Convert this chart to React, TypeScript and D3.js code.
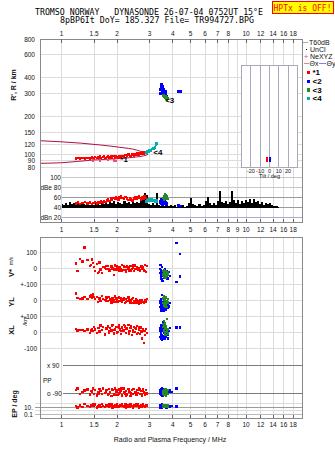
import React from 'react';
import * as d3 from 'd3';

const W = 335;
const H = 451;

// frequency axis ticks (MHz)
const freqTicksOuter = [1, 1.5, 2, 3, 4, 5, 6, 7, 8, 10, 12, 14, 16, 18];
const freqTicksMid = [1, 1.5, 2, 3, 4, 5, 6, 7, 8, 9, 10, 12, 14, 16, 18];
const heightTicks = [800, 600, 400, 300, 200, 150, 120, 100, 90, 80];
const dbTicks: [number, string][] = [[100, '100'], [80, 'dBe 80'], [60, '60'], [40, '40'], [20, 'dBn 20']];
const tiltTicks = [-20, -10, 0, 10, 20];

// echo traces [f MHz, virtual height km, amplitude dB]
const redEchoes: [number, number, number][] = [
  [1.20, 93.5, 47], [1.23, 94, 49], [1.26, 93, 46], [1.30, 94.5, 48], [1.34, 93, 50],
  [1.38, 94, 47], [1.42, 93.5, 49], [1.46, 95, 46], [1.49, 93, 48], [1.52, 96, 50],
  [1.55, 94, 47], [1.58, 95, 49], [1.61, 97, 48], [1.64, 94, 51], [1.67, 95.5, 49],
  [1.70, 97, 52], [1.73, 94, 50], [1.76, 96, 53], [1.79, 98, 55], [1.82, 95, 52],
  [1.85, 96.5, 57], [1.88, 94, 54], [1.91, 97, 58], [1.94, 95, 56], [1.97, 98, 60],
  [2.00, 96, 57], [2.03, 94, 55], [2.06, 97, 59], [2.10, 95, 62], [2.14, 98, 58],
  [2.18, 96, 56], [2.22, 99, 60], [2.26, 97, 57], [2.30, 100, 54], [2.34, 98, 58],
  [2.38, 96.5, 55], [2.42, 100, 53], [2.46, 98, 57], [2.50, 101, 60], [2.54, 99, 56],
  [2.58, 102, 59], [2.62, 100, 62], [2.66, 103, 58], [2.70, 101, 55], [2.74, 104, 60],
  [2.78, 102, 57], [2.82, 104, 61], [2.86, 103, 58], [2.90, 104, 56],
];
const pinkEchoes: [number, number][] = [[1.48, 90], [1.61, 90], [1.79, 90.5], [1.92, 90], [1.97, 89.5]];
const tealEchoes: [number, number, number][] = [
  [2.88, 104, 51], [2.92, 106, 54], [2.96, 105, 52], [3.00, 108, 55], [3.04, 107, 53],
  [3.08, 110, 56], [3.12, 112, 52], [3.16, 111, 54], [3.20, 114, 50], [3.24, 120, 53],
  [3.27, 122, 51], [3.30, 121, 54],
];
const blueEchoes: [number, number, number][] = [
  [3.42, 300, 48], [3.44, 322, 52], [3.45, 345, 55], [3.47, 356, 50], [3.48, 335, 46],
  [3.50, 312, 53], [3.51, 328, 49], [3.52, 300, 45], [3.54, 340, 51], [3.55, 318, 47],
  [3.57, 302, 54], [3.59, 325, 50], [3.61, 308, 46], [3.63, 296, 52], [3.65, 312, 48],
  [3.67, 292, 44], [3.69, 302, 50], [3.71, 288, 47], [4.30, 312, 43], [4.42, 312, 42],
];
const greenEchoes: [number, number, number][] = [
  [3.55, 290, 58], [3.58, 282, 62], [3.60, 293, 55], [3.62, 278, 66], [3.65, 286, 60],
  [3.67, 272, 64], [3.70, 281, 57], [3.72, 268, 61], [3.75, 276, 56],
];

// model profile traces [f, h]
const profileUpper: [number, number][] = [
  [0.763, 128.4], [0.98, 126], [1.26, 123], [1.61, 119], [2.07, 114], [2.55, 108.6], [2.94, 100.5],
];
const profileLower: [number, number][] = [
  [0.763, 85.5], [1.0, 86.4], [1.48, 90.7], [2.0, 92.9], [2.44, 95.2], [2.89, 99.3], [2.94, 100.5],
];

// trace labels [text, f, h]
const echoTags: [string, number, number][] = [['*1', 2.08, 91.5], ['<4', 3.14, 103], ['<3', 3.64, 264]];

// tilt of echoes [deg, h, colour]
const tiltMarks: [number, number, string][] = [[-2.5, 92, '#ff0000'], [0, 92, '#0000ff']];

// noise amplitude (dB), log-spaced sounding frequencies 1..15 MHz
const noiseDb = [
  47, 44, 49, 45, 50, 46, 48, 44, 47, 45, 49,
  46, 44, 48, 45, 47, 44, 49, 46, 45, 48,
  47, 51, 46, 50, 48, 52, 47, 51, 49, 46, 52, 48, 50, 47, 53, 49, 51, 48,
  60, 55, 69, 64,
  47, 44, 48, 45,
  68,
  45, 43, 47, 42, 46, 43, 45,
  42, 44, 41, 43, 42, 44, 41, 43,
  49, 58, 47,
  44, 42, 46, 43, 45,
  52, 61, 48,
  45, 49, 44, 52,
  73, 51,
  48, 53, 46, 50,
  73, 55,
  49, 54, 47, 52, 48,
  54, 50, 57, 49, 56, 51, 53,
  47, 50, 45, 49, 46, 48, 44,
  43, 42, 41,
];
const noiseFreq = d3.range(noiseDb.length).map((i) => 10 ** ((i * Math.log10(15)) / (noiseDb.length - 1)));

// echo vectors [f, V* m/s, YL km, XL km, PP deg, EP deg]  (null = not resolved)
type Vec = [number, number | null, number | null, number | null, number | null, number | null];
const redVectors: Vec[] = [
  [1.20, 29, 40, 17, -70, 20], [1.22, -17, 12, 10, -62, 8], [1.26, 56, 8, 14, -95, 30],
  [1.30, 40, 10, 12, -85, 12], [1.33, 129, 18, 5, -75, 60], [1.38, 50, 6, 15, -68, 20],
  [1.42, 12, 22, -5, -100, 10], [1.44, 20, 28, 10, -76, 40], [1.46, 52, 15, 20, -80, 25],
  [1.48, 30, 35, 8, -62, 70], [1.50, 8, 20, 30, -95, 18], [1.52, -20, 5, 15, -70, 50],
  [1.55, 25, 18, -8, -105, 8], [1.57, -33, -12, 25, -88, 15], [1.59, -25, 14, 26, -92, 12],
  [1.60, 35, 10, 2, -66, 30], [1.62, -10, -5, 40, -78, 12], [1.65, -33, 25, 12, -98, 60],
  [1.68, 5, 8, 30, -60, 20], [1.72, 4, 0, -15, -90, 10], [1.74, 12, -3, 22, -82, 30],
  [1.75, -8, 15, 20, -72, 40], [1.78, 12, -8, 35, -100, 25], [1.80, -5, 20, 5, -64, 70],
  [1.81, -18, 18, -8, -96, 12], [1.83, -15, 2, 25, -85, 18], [1.86, 10, -15, 10, -110, 50],
  [1.87, 6, 4, 38, -66, 45], [1.89, -2, 12, 44, -70, 8], [1.92, -44, 0, -10, -95, 15],
  [1.93, -10, -12, 12, -104, 9], [1.95, 15, 22, 18, -60, 30], [1.98, -12, 5, 30, -80, 12],
  [1.99, 14, 10, -2, -74, 60], [2.01, 2, -10, 0, -102, 20], [2.04, -20, 15, 40, -68, 10],
  [2.05, -6, 20, 26, -92, 15], [2.07, 8, -5, 15, -88, 40], [2.10, -5, 10, -12, -75, 25],
  [2.11, -16, -4, 6, -62, 35], [2.13, 18, -12, 28, -105, 70], [2.16, -12, 3, 10, -62, 18],
  [2.17, 9, 14, 44, -86, 10], [2.20, 5, -18, 35, -92, 50], [2.23, -22, 8, -5, -78, 8],
  [2.24, -12, -14, 18, -108, 70], [2.26, 10, -8, 22, -100, 15], [2.30, -3, 15, 42, -66, 30],
  [2.31, 4, 6, -10, -70, 14], [2.33, -15, -2, 5, -85, 12], [2.36, 12, -15, 25, -110, 60],
  [2.37, -20, -8, 34, -94, 40], [2.40, -8, 5, -18, -72, 20], [2.43, 2, -20, 12, -95, 10],
  [2.44, 16, 12, 4, -64, 8], [2.46, -18, -5, 32, -64, 40], [2.50, 15, -12, 0, -82, 25],
  [2.51, -8, -16, 24, -88, 25], [2.53, -5, 2, 20, -104, 70], [2.56, 8, -18, 38, -70, 18],
  [2.57, 2, -2, -12, -102, 55], [2.60, -12, -8, -8, -90, 50], [2.63, 0, -22, 15, -60, 8],
  [2.64, -14, -18, 30, -68, 12], [2.66, -20, -3, -14, -98, 15], [2.70, 10, -15, 28, -76, 30],
  [2.71, 11, -6, 2, -96, 30], [2.73, -8, 0, -40, -108, 12], [2.76, 5, -12, 10, -66, 60],
  [2.77, -4, -14, 20, -74, 80], [2.80, -15, -20, -67, -86, 20], [2.83, 20, -6, 8, -100, 10],
  [2.84, -18, 0, -20, -90, 10], [2.87, -25, -10, 18, -70, 40], [2.90, 12, 5, -5, -92, 25],
];
const blueVectors: Vec[] = [
  [3.42, -5, -20, 10, -70, 20], [3.43, 19, -45, -30, -95, 8], [3.44, -30, -10, 25, -80, 40],
  [3.45, -55, -60, -45, -65, 12], [3.46, -15, 5, -10, -100, 25], [3.47, -40, -35, 40, -88, 10],
  [3.48, -70, -70, -20, -75, 30], [3.49, -25, -25, 5, -105, 15], [3.50, -50, -50, -50, -62, 50],
  [3.51, 5, 30, -35, -90, 8], [3.52, -35, -40, 15, -78, 20], [3.53, -80, -15, -25, -110, 12],
  [3.54, -20, -55, 60, -70, 35], [3.56, -45, -30, -40, -98, 9], [3.58, -60, -65, -5, -84, 22],
  [3.60, -30, -20, 20, -66, 15], [3.62, -10, -45, -45, -102, 40], [3.64, -55, -5, 0, -76, 10],
  [3.66, -35, -60, -30, -92, 18], [3.70, -20, -35, 10, -80, 8], [3.74, -65, -50, -15, -70, 25],
  [3.78, -40, -25, -40, -95, 12], [3.82, -25, -40, 5, -85, 18], [3.86, -50, -20, 25, -75, 10],
  [3.95, null, null, null, -85, 18], [4.20, 158, null, 27, -60, 15], [4.20, -86, null, null, null, 12],
  [4.38, 89, null, 29, null, null], [4.38, -54, null, null, null, null],
];
const greenVectors: Vec[] = [
  [3.55, -20, 10, 50, -80, 15], [3.57, -40, -20, 30, -95, 30], [3.58, -15, 25, 70, -70, 10],
  [3.60, -55, -35, 10, -88, 22], [3.61, -30, 0, 40, -100, 12], [3.62, -45, -10, -5, -75, 40],
  [3.64, -25, -40, 55, -92, 18], [3.65, -60, -25, 20, -82, 9], [3.66, -35, 15, -20, -68, 25],
  [3.68, -20, -30, 35, -105, 14], [3.70, -50, -5, 0, -85, 20], [3.72, -30, -45, 80, -78, 10],
  [3.74, -40, -15, 15, -95, 30], [3.76, -25, 5, -10, -72, 15],
];

const legendModes: [string, string][] = [['*1', '#ff0000'], ['<2', '#0000ff'], ['<3', '#228b22'], ['<4', '#00b0b0']];

const RED = '#ff0000';
const BLUE = '#0000ff';
const GREEN = '#228b22';
const TEAL = '#00b0b0';
const GRID = '#dcdcdc';
const FRAME = '#8a8a8a';
const SANS = '"Liberation Sans", Arial, sans-serif';
const MONO = '"DejaVu Sans Mono", "Liberation Mono", monospace';

// panel frames
const top = { x0: 40, x1: 302, y0: 39, y1: 222 };
const low = { x0: 40, x1: 302, y0: 237, y1: 418 };

const fx = d3.scaleLog().domain([0.763, 20.1]).range([top.x0, top.x1]);
const hy = d3.scaleLog().domain([80, 800]).range([167, 39]);
const dby = d3.scaleLinear().domain([20, 100]).range([217, 177]);
// stacked V*, YL, XL rows share one linear axis; each row offset by 200 units
const compY = d3.scaleLinear().domain([-500, 100]).range([348, 252]);
const rowOffset = { v: 0, yl: -200, xl: -400 };
const ppY = d3.scaleLinear().domain([-90, 90]).range([393, 365]);
const epY = d3.scaleLog().domain([0.1, 10]).range([414, 407]);
const tiltX = d3.scaleLinear().domain([-30, 30]).range([241.7, 297.3]);

const profileLine = d3
  .line<[number, number]>()
  .x((d) => fx(d[0]))
  .y((d) => hy(d[1]))
  .curve(d3.curveMonotoneX);

const noiseArea = d3
  .area<number>()
  .x((_, i) => fx(noiseFreq[i]))
  .y0(dby(38))
  .y1((d) => dby(d))
  .curve(d3.curveStep);

function Dot({ x, y, c, s = 2.4 }: { x: number; y: number; c: string; s?: number }) {
  return <rect x={x - s / 2} y={y - s / 2} width={s} height={s} fill={c} />;
}

function vecDots(rows: Vec[], col: number, c: string, yFn: (v: number) => number, key: string) {
  return rows
    .filter((r) => r[col] !== null)
    .map((r, i) => <Dot key={`${key}${i}`} x={fx(r[0])} y={yFn(r[col] as number)} c={c} />);
}

export default function App() {
  const lbl = { fontFamily: SANS, fontSize: 6.5, fill: '#111' } as const;

  return (
    <svg
      width={W}
      height={H}
      style={{ position: 'absolute', left: 0, top: 0, background: '#fff' }}
      shapeRendering="crispEdges"
    >
      <rect width={W} height={H} fill="#fff" />

      {/* header */}
      <text
        x={35}
        y={15}
        fontFamily={MONO}
        fontSize={8}
        fill="#000"
        textLength={228}
        lengthAdjust="spacingAndGlyphs"
        style={{ whiteSpace: 'pre' }}
      >
        TROMSO NORWAY   DYNASONDE 26-07-04 0752UT 15°E
      </text>
      <text
        x={60}
        y={22.5}
        fontFamily={MONO}
        fontSize={8}
        fill="#000"
        textLength={194}
        lengthAdjust="spacingAndGlyphs"
        style={{ whiteSpace: 'pre' }}
      >
        8pBP6It DoY= 185.327 File= TR994727.BPG
      </text>
      <rect x={272} y={1.5} width={61} height={11.5} fill="#ffff00" stroke="#ff0000" />
      <text
        x={273.5}
        y={10.5}
        fontFamily={MONO}
        fontSize={8}
        fill="#ff0000"
        textLength={58}
        lengthAdjust="spacingAndGlyphs"
      >
        HPTx is OFF!
      </text>

      {/* ===== upper panel ===== */}
      {freqTicksMid.map((f) => (
        <line key={`vg${f}`} x1={fx(f)} x2={fx(f)} y1={top.y0} y2={top.y1} stroke={GRID} />
      ))}
      {heightTicks.map((h) => (
        <line key={`hg${h}`} x1={top.x0} x2={top.x1} y1={hy(h)} y2={hy(h)} stroke={GRID} />
      ))}
      {heightTicks.map((h) => (
        <text key={`hl${h}`} x={35} y={hy(h)} textAnchor="end" dominantBaseline="central" {...lbl}>
          {h}
        </text>
      ))}
      <text
        transform="translate(13,85) rotate(-90)"
        textAnchor="middle"
        dominantBaseline="central"
        fontFamily={SANS}
        fontSize={7}
        fontWeight="bold"
        fill="#111"
      >
        R', R / km
      </text>

      {/* amplitude strip */}
      {dbTicks.map(([v]) => (
        <line
          key={`dg${v}`}
          x1={fx(1)}
          x2={top.x1}
          y1={dby(v)}
          y2={dby(v)}
          stroke={v === 20 ? '#aaaadd' : v === 40 || v === 60 ? '#9a9a9a' : '#c8c8c8'}
        />
      ))}
      {dbTicks.map(([v, t]) => (
        <text key={`dl${v}`} x={61} y={dby(v)} textAnchor="end" dominantBaseline="central" {...lbl}>
          {t}
        </text>
      ))}
      <path d={noiseArea(noiseDb) ?? ''} fill="#000" />
      {redEchoes.map((d, i) => (
        <Dot key={`ra${i}`} x={fx(d[0])} y={dby(d[2])} c={RED} />
      ))}
      {tealEchoes.map((d, i) => (
        <Dot key={`ta${i}`} x={fx(d[0])} y={dby(d[2])} c={TEAL} />
      ))}
      {blueEchoes.map((d, i) => (
        <Dot key={`ba${i}`} x={fx(d[0])} y={dby(d[2])} c={BLUE} />
      ))}
      {greenEchoes.map((d, i) => (
        <Dot key={`ga${i}`} x={fx(d[0])} y={dby(d[2])} c={GREEN} />
      ))}

      {/* model profile */}
      <path d={profileLine(profileUpper) ?? ''} fill="none" stroke="#b01040" strokeWidth={1} shapeRendering="auto" />
      <path d={profileLine(profileLower) ?? ''} fill="none" stroke="#b01040" strokeWidth={1} shapeRendering="auto" />

      {/* echoes */}
      {redEchoes.map((d, i) => (
        <Dot key={`re${i}`} x={fx(d[0])} y={hy(d[1])} c={RED} />
      ))}
      {pinkEchoes.map((d, i) => (
        <Dot key={`pe${i}`} x={fx(d[0])} y={hy(d[1])} c="#e0508c" />
      ))}
      {tealEchoes.map((d, i) => (
        <Dot key={`te${i}`} x={fx(d[0])} y={hy(d[1])} c={TEAL} />
      ))}
      {blueEchoes.map((d, i) => (
        <Dot key={`be${i}`} x={fx(d[0])} y={hy(d[1])} c={BLUE} />
      ))}
      {greenEchoes.map((d, i) => (
        <Dot key={`ge${i}`} x={fx(d[0])} y={hy(d[1])} c={GREEN} />
      ))}
      {echoTags.map(([t, f, h]) => (
        <text
          key={t}
          x={fx(f)}
          y={hy(h)}
          dominantBaseline="central"
          fontFamily={SANS}
          fontSize={8}
          fontWeight="bold"
          fill="#000"
        >
          {t}
        </text>
      ))}

      {/* tilt inset */}
      <rect x={tiltX(-30)} y={65.3} width={tiltX(30) - tiltX(-30)} height={102} fill="#fff" stroke="#a8a8b8" />
      {tiltTicks.map((t) => (
        <line key={`tg${t}`} x1={tiltX(t)} x2={tiltX(t)} y1={65.3} y2={167.3} stroke="#a8a8c0" />
      ))}
      {tiltTicks.map((t) => (
        <text key={`tl${t}`} x={tiltX(t)} y={171} textAnchor="middle" dominantBaseline="central" fontFamily={SANS} fontSize={5.5} fill="#111">
          {t}
        </text>
      ))}
      <text x={tiltX(0)} y={176} textAnchor="middle" dominantBaseline="central" fontFamily={SANS} fontSize={5.5} fill="#111">
        Tilt / deg
      </text>
      {tiltMarks.map(([t, h, c], i) => (
        <rect key={`tm${i}`} x={tiltX(t) - 0.8} y={hy(h) - 2.5} width={1.8} height={5} fill={c} />
      ))}

      {/* frame and frequency ticks */}
      <rect x={top.x0} y={top.y0} width={top.x1 - top.x0} height={top.y1 - top.y0} fill="none" stroke={FRAME} />
      {freqTicksOuter.map((f) => (
        <g key={`tt${f}`}>
          <line x1={fx(f)} x2={fx(f)} y1={top.y0} y2={top.y0 + 4} stroke="#666" />
          <text x={fx(f)} y={33} textAnchor="middle" dominantBaseline="central" {...lbl}>
            {f}
          </text>
        </g>
      ))}
      {freqTicksMid.map((f) => (
        <g key={`mt${f}`}>
          <line x1={fx(f)} x2={fx(f)} y1={top.y1 - 3} y2={top.y1} stroke="#666" />
          <line x1={fx(f)} x2={fx(f)} y1={low.y0} y2={low.y0 + 3} stroke="#666" />
          <text x={fx(f)} y={229} textAnchor="middle" dominantBaseline="central" {...lbl}>
            {f}
          </text>
        </g>
      ))}

      {/* legend */}
      <line x1={303} x2={308} y1={42} y2={42} stroke="#aaa" />
      <text x={309} y={42} dominantBaseline="central" fontFamily={SANS} fontSize={7} fill="#111">
        T60dB
      </text>
      <rect x={305.5} y={48.5} width={1} height={1} fill="#000" />
      <text x={310} y={49} dominantBaseline="central" fontFamily={SANS} fontSize={7} fill="#111">
        UnCl
      </text>
      <text x={306} y={56} textAnchor="middle" dominantBaseline="central" fontFamily={SANS} fontSize={8} fill="#e0508c">
        +
      </text>
      <text x={310} y={56} dominantBaseline="central" fontFamily={SANS} fontSize={7} fill="#111">
        NeXYZ
      </text>
      <line x1={304} x2={309} y1={63} y2={63} stroke="#f08080" />
      <text x={309.5} y={63} dominantBaseline="central" fontFamily={SANS} fontSize={7} fill="#111">
        Θx
      </text>
      <line x1={319} x2={326} y1={63} y2={63} stroke="#8080f0" />
      <text x={326.5} y={63} dominantBaseline="central" fontFamily={SANS} fontSize={7} fill="#111">
        Θy
      </text>
      {legendModes.map(([t, c], i) => (
        <g key={`lg${t}`}>
          <rect x={306.5} y={70.8 + i * 8.8} width={3.2} height={3.2} fill={c} />
          <text x={312.5} y={72.4 + i * 8.8} dominantBaseline="central" fontFamily={SANS} fontSize={8} fontWeight="bold" fill="#000">
            {t}
          </text>
        </g>
      ))}

      {/* ===== lower panel ===== */}
      {freqTicksMid.map((f) => (
        <line key={`lvg${f}`} x1={fx(f)} x2={fx(f)} y1={low.y0} y2={low.y1} stroke={GRID} />
      ))}
      {[100, 0, -100, -200, -300, -400, -500].map((v) => (
        <line key={`cg${v}`} x1={low.x0} x2={low.x1} y1={compY(v)} y2={compY(v)} stroke={GRID} />
      ))}
      {(
        [
          [100, '100'],
          [0, '0'],
          [-100, '+-100'],
          [-200, '0'],
          [-300, '+-100'],
          [-400, '0'],
          [-500, '-100'],
        ] as [number, string][]
      ).map(([v, t]) => (
        <text key={`cl${v}`} x={37} y={compY(v)} textAnchor="end" dominantBaseline="central" {...lbl}>
          {t}
        </text>
      ))}
      <text transform="translate(11,273) rotate(-90)" textAnchor="middle" dominantBaseline="central" fontFamily={SANS} fontSize={7.5} fontWeight="bold" fill="#111">
        V*
      </text>
      <text transform="translate(11,261) rotate(-90)" textAnchor="middle" dominantBaseline="central" fontFamily={SANS} fontSize={5} fill="#111">
        m/s
      </text>
      <text transform="translate(11,302) rotate(-90)" textAnchor="middle" dominantBaseline="central" fontFamily={SANS} fontSize={7.5} fontWeight="bold" fill="#111">
        YL
      </text>
      <text transform="translate(25,321) rotate(-90)" textAnchor="middle" dominantBaseline="central" fontFamily={SANS} fontSize={6} fill="#111">
        /km
      </text>
      <text transform="translate(11,330) rotate(-90)" textAnchor="middle" dominantBaseline="central" fontFamily={SANS} fontSize={7.5} fontWeight="bold" fill="#111">
        XL
      </text>

      {vecDots(redVectors, 1, RED, (v) => compY(v + rowOffset.v), 'rv')}
      {vecDots(redVectors, 2, RED, (v) => compY(v + rowOffset.yl), 'ry')}
      {vecDots(redVectors, 3, RED, (v) => compY(v + rowOffset.xl), 'rx')}
      {vecDots(blueVectors, 1, BLUE, (v) => compY(v + rowOffset.v), 'bv')}
      {vecDots(blueVectors, 2, BLUE, (v) => compY(v + rowOffset.yl), 'by')}
      {vecDots(blueVectors, 3, BLUE, (v) => compY(v + rowOffset.xl), 'bx')}
      {vecDots(greenVectors, 1, GREEN, (v) => compY(v + rowOffset.v), 'gv')}
      {vecDots(greenVectors, 2, GREEN, (v) => compY(v + rowOffset.yl), 'gy')}
      {vecDots(greenVectors, 3, GREEN, (v) => compY(v + rowOffset.xl), 'gx')}

      {/* polarisation rows */}
      <line x1={63} x2={low.x1} y1={ppY(90)} y2={ppY(90)} stroke="#7a7a7a" />
      <line x1={63} x2={low.x1} y1={ppY(-90)} y2={ppY(-90)} stroke="#7a7a7a" />
      <text x={47} y={ppY(90)} dominantBaseline="central" {...lbl}>
        x 90
      </text>
      <text x={43} y={380} dominantBaseline="central" {...lbl}>
        PP
      </text>
      <text x={47} y={ppY(-90)} dominantBaseline="central" {...lbl}>
        o -90
      </text>
      {[100, 10, 1, 0.1].map((v) => (
        <line
          key={`eg${v}`}
          x1={35}
          x2={low.x1}
          y1={epY(v)}
          y2={epY(v)}
          stroke={v === 10 ? '#9a9a9a' : v === 0.1 ? '#bbbbbb' : GRID}
        />
      ))}
      <text x={33} y={epY(10)} textAnchor="end" dominantBaseline="central" {...lbl}>
        10.
      </text>
      <text x={33} y={epY(0.1)} textAnchor="end" dominantBaseline="central" {...lbl}>
        0.1
      </text>
      <text transform="translate(14,404) rotate(-90)" textAnchor="middle" dominantBaseline="central" fontFamily={SANS} fontSize={7} fontWeight="bold" fill="#111">
        EP / deg
      </text>

      {vecDots(redVectors, 4, RED, ppY, 'rp')}
      {vecDots(redVectors, 5, RED, epY, 're')}
      {vecDots(blueVectors, 4, BLUE, ppY, 'bp')}
      {vecDots(blueVectors, 5, BLUE, epY, 'bpe')}
      {vecDots(greenVectors, 4, GREEN, ppY, 'gp')}
      {vecDots(greenVectors, 5, GREEN, epY, 'gpe')}

      <rect x={low.x0} y={low.y0} width={low.x1 - low.x0} height={low.y1 - low.y0} fill="none" stroke={FRAME} />
      {freqTicksOuter.map((f) => (
        <g key={`bt${f}`}>
          <line x1={fx(f)} x2={fx(f)} y1={low.y1 - 3} y2={low.y1} stroke="#666" />
          <text x={fx(f)} y={424} textAnchor="middle" dominantBaseline="central" {...lbl}>
            {f}
          </text>
        </g>
      ))}
      <text x={170} y={439} textAnchor="middle" dominantBaseline="central" fontFamily={SANS} fontSize={7} fill="#111">
        Radio and Plasma Frequency / MHz
      </text>
    </svg>
  );
}
